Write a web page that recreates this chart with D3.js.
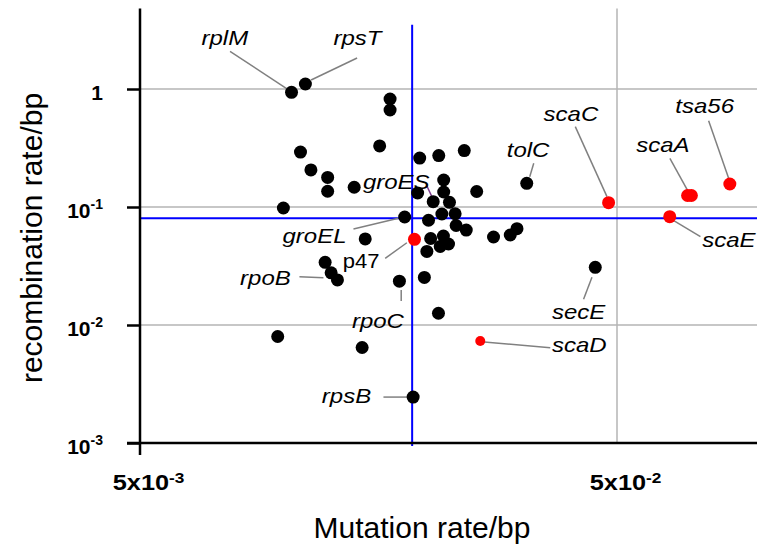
<!DOCTYPE html>
<html lang="en">
<head>
<meta charset="utf-8">
<title>Mutation rate vs recombination rate</title>
<script src="https://cdn.jsdelivr.net/npm/d3@7"></script>
<style>
  body { margin: 0; background: #fff; }
  svg { display: block; font-family: "Liberation Sans", Arial, sans-serif; }
</style>
</head>
<body>
<script>
// black genes
var blackGenes = ["rplM","rpsT","","","","","","","","","","","","","tolC","","","","","groES",
  "","","","groEL","","","","","","","","","","","","","rpoB","","","rpoC","","","secE","","","rpsB"];
var blackMut = [0.01039,0.01111,0.01672,0.01672,0.01590,0.01085,0.01141,0.01237,0.01237,0.01406,
  0.00999,0.01929,0.02115,0.02392,0.03234,0.02166,0.02166,0.02540,0.01910,0.02059,
  0.02227,0.02147,0.02289,0.01794,0.02013,0.02300,0.02415,0.02755,0.02987,0.03085,
  0.02034,0.02163,0.02217,0.02130,0.01997,0.01483,0.01222,0.01258,0.01297,0.01749,
  0.01973,0.02112,0.04502,0.00972,0.01461,0.01869];
var blackRec = [0.938,1.103,0.823,0.664,0.329,0.292,0.206,0.178,0.136,0.147,
  0.0981,0.260,0.273,0.301,0.1588,0.1694,0.1340,0.1353,0.1314,0.1109,
  0.1096,0.0872,0.0877,0.0823,0.0772,0.0697,0.0638,0.0557,0.0579,0.0655,
  0.0541,0.0568,0.0486,0.0463,0.0420,0.0536,0.0340,0.0277,0.0241,0.0235,
  0.0253,0.01257,0.0308,0.00799,0.00645,0.00245];

// red genes (sca family etc.)
var redGenes = ["p47","scaC","scaA","","tsa56","scaE","scaD"];
var redMut = [0.01881,0.04801,0.0703,0.0716,0.0862,0.0645,0.02584];
var redRec = [0.0532,0.1088,0.1252,0.1252,0.1566,0.0828,0.00732];

// cut-off lines
var mutCut = 0.0186;
var recCut = 0.0802;

var xTicks = [0.005, 0.05];
var yTicks = [1, 0.1, 0.01, 0.001];

// label placement (pixel offsets from the dot)
var labels = [
  {g:"rplM", tx:-90, ty:-47, x1:-61.5, y1:-41, x2:-4.5, y2:-3.3},
  {g:"rpsT", tx:28, ty:-39, x1:51.7, y1:-26, x2:5.7, y2:-4},
  {g:"tolC", tx:-20, ty:-26.6, x1:7, y1:-20, x2:3, y2:-6.6},
  {g:"scaC", tx:-65, ty:-82, x1:-33.3, y1:-76, x2:-1.6, y2:-6},
  {g:"scaA", tx:-51.3, ty:-43.8, x1:-17.7, y1:-37.2, x2:-0.3, y2:-5.5},
  {g:"tsa56", tx:-54.5, ty:-70.7, x1:-21.2, y1:-63.3, x2:-1.2, y2:-5.7},
  {g:"scaE", tx:32.4, ty:30, x1:4, y1:4, x2:30.7, y2:20},
  {g:"secE", tx:-43.3, ty:52, x1:-11.7, y1:32, x2:-3.3, y2:10},
  {g:"scaD", tx:71.7, ty:10.7, x1:4, y1:1, x2:70, y2:6.7},
  {g:"rpsB", tx:-91.3, ty:6.3, x1:-29.7, y1:0, x2:-6, y2:0},
  {g:"rpoC", tx:-47.5, ty:46.4, x1:1.8, y1:8.7, x2:1.8, y2:19.7},
  {g:"rpoB", tx:-85, ty:22.7, x1:-25.7, y1:14.4, x2:-1.7, y2:15.4},
  {g:"p47", tx:-71.6, ty:29, x1:-29.3, y1:19, x2:-7.6, y2:3.4, upright:true},
  {g:"groEL", tx:-122.2, ty:26.3, x1:-51.2, y1:12, x2:-6.2, y2:1.3},
  {g:"groES", tx:-70.3, ty:-12.4, x1:-6.3, y1:-15.7, x2:-1.3, y2:-5, lc:"#7b3a8c"}
];

var w = 757, h = 546;

var x = d3.scaleLog().domain([0.005, 0.05]).range([140, 617]);
var y = d3.scaleLog().domain([0.001, 1]).range([443, 89]);
var xEnd = 0.1, yTop = 4.8;

var svg = d3.select("body").append("svg")
  .attr("width", w).attr("height", h);

// grid
svg.selectAll("line.hgrid").data([1, 0.1, 0.01]).enter().append("line")
  .attr("x1", x(0.005)).attr("x2", x(xEnd))
  .attr("y1", function(d){ return y(d); }).attr("y2", function(d){ return y(d); })
  .attr("stroke", "#b4b4b4").attr("stroke-width", 1.5);
svg.selectAll("line.vgrid").data([0.05]).enter().append("line")
  .attr("x1", function(d){ return x(d); }).attr("x2", function(d){ return x(d); })
  .attr("y1", y(yTop)).attr("y2", y(0.001))
  .attr("stroke", "#b4b4b4").attr("stroke-width", 1.5);

// blue cut-off lines
svg.append("line")
  .attr("x1", x(0.005)).attr("x2", x(xEnd))
  .attr("y1", y(recCut)).attr("y2", y(recCut))
  .attr("stroke", "#0000ff").attr("stroke-width", 2);
svg.append("line")
  .attr("x1", x(mutCut)).attr("x2", x(mutCut))
  .attr("y1", y(3.5)).attr("y2", y(0.001) + 3)
  .attr("stroke", "#0000ff").attr("stroke-width", 2);

// axes
var gY = svg.append("g").attr("transform", "translate(" + x(0.005) + ",0)")
  .call(d3.axisLeft(y).tickValues(yTicks).tickSize(13).tickSizeOuter(0).tickPadding(24).tickFormat(""));
gY.select(".domain").remove();
gY.selectAll(".tick line").attr("stroke", "#000").attr("stroke-width", 2.5);
gY.selectAll(".tick text")
  .attr("font-size", 21).attr("font-weight", "bold").attr("fill", "#000")
  .attr("font-family", "Liberation Sans, Arial, sans-serif").attr("dy", "0.5em")
  .each(function(d){
    var t = d3.select(this);
    var e = Math.round(Math.log10(d));
    if (e === 0) { t.text("1"); return; }
    t.append("tspan").text("10");
    t.append("tspan").attr("dy", -9).attr("font-size", 14).text(String(e));
  });

var gX = svg.append("g").attr("transform", "translate(0," + y(0.001) + ")")
  .call(d3.axisBottom(x).tickValues(xTicks).tickSize(0).tickSizeOuter(0).tickPadding(31).tickFormat(""));
gX.select(".domain").remove();
gX.selectAll(".tick text")
  .attr("font-size", 22).attr("font-weight", "bold").attr("fill", "#000")
  .attr("font-family", "Liberation Sans, Arial, sans-serif")
  .attr("x", 7).attr("transform", "scale(1.15,1)")
  .each(function(d){
    var t = d3.select(this);
    var e = Math.round(Math.log10(d / 5));
    t.append("tspan").text("5x10");
    t.append("tspan").attr("dy", -7).attr("font-size", 15).text(String(e));
  });

// axis lines
svg.append("line")
  .attr("x1", x(0.005)).attr("x2", x(0.005))
  .attr("y1", y(yTop)).attr("y2", y(0.001) + 12)
  .attr("stroke", "#000").attr("stroke-width", 2.5);
svg.append("line")
  .attr("x1", x(0.005) - 13).attr("x2", x(xEnd))
  .attr("y1", y(0.001)).attr("y2", y(0.001))
  .attr("stroke", "#000").attr("stroke-width", 2.5);

// points
var black = blackMut.map(function(m, i){ return {g: blackGenes[i], m: m, r: blackRec[i], c: "#000"}; });
var red = redMut.map(function(m, i){ return {g: redGenes[i], m: m, r: redRec[i], c: "#ff0000"}; });
var pts = black.concat(red);

// leader lines and labels
var gL = svg.append("g");
labels.forEach(function(l){
  var p = pts.find(function(d){ return d.g === l.g; });
  var px = x(p.m), py = y(p.r);
  gL.append("line")
    .attr("x1", px + l.x1).attr("y1", py + l.y1)
    .attr("x2", px + l.x2).attr("y2", py + l.y2)
    .attr("stroke", l.lc || "#808080").attr("stroke-width", 1.5);
  gL.append("text")
    .attr("transform", "translate(" + (px + l.tx) + "," + (py + l.ty) + ") scale(" + (l.upright ? 1.1 : 1.2) + ",1)")
    .attr("font-size", 20)
    .attr("font-style", l.upright ? "normal" : "italic")
    .attr("fill", "#000")
    .text(l.g);
});

svg.append("g").selectAll("circle").data(pts).enter().append("circle")
  .attr("cx", function(d){ return x(d.m); })
  .attr("cy", function(d){ return y(d.r); })
  .attr("r", function(d){ return d.g === "scaD" ? 5 : 6.5; })
  .attr("fill", function(d){ return d.c; });

// axis titles
svg.append("text")
  .attr("x", 422).attr("y", 538)
  .attr("text-anchor", "middle").attr("font-size", 30).attr("fill", "#000")
  .text("Mutation rate/bp");
svg.append("text")
  .attr("transform", "translate(42,238) rotate(-90)")
  .attr("text-anchor", "middle").attr("font-size", 30).attr("fill", "#000")
  .text("recombination rate/bp");
</script>
</body>
</html>
